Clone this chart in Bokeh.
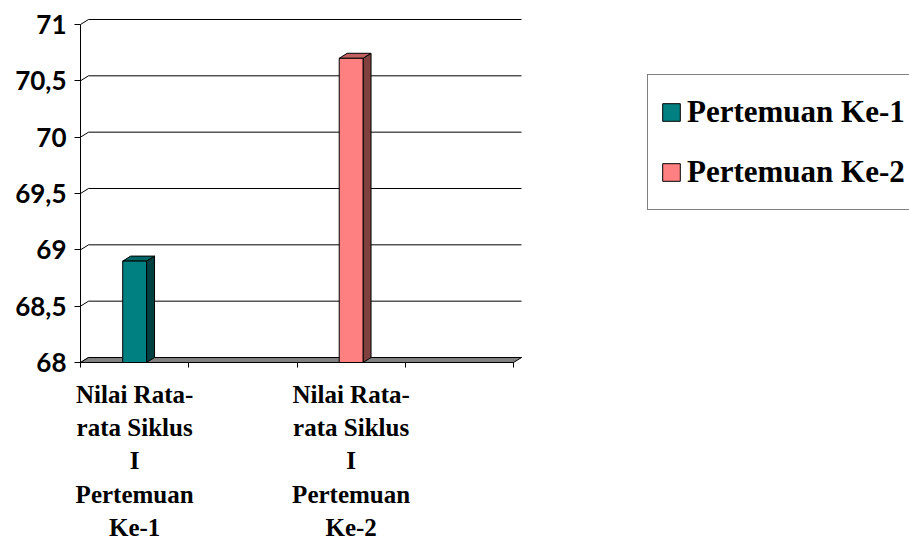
from bokeh.plotting import figure
from bokeh.models import FixedTicker, Range1d, Legend, LegendItem
from bokeh.embed import file_html
from bokeh.resources import INLINE

# ---- data -------------------------------------------------------------
category_labels = [
    "Nilai Rata-\nrata Siklus\nI\nPertemuan\nKe-1",
    "",
    "Nilai Rata-\nrata Siklus\nI\nPertemuan\nKe-2",
    "",
]
series_names = ["Pertemuan Ke-1", "Pertemuan Ke-2"]
series_values = [68.9, 70.7]
series_slot = [0, 2]          # category slot that holds each series' column
y_ticks = [68, 68.5, 69, 69.5, 70, 70.5, 71]
y_tick_labels = ["68", "68,5", "69", "69,5", "70", "70,5", "71"]

# ---- styling ----------------------------------------------------------
front_colors = ["#008080", "#FF8080"]
side_colors = ["#004040", "#804040"]
top_colors = ["#006666", "#C06060"]

W, H = 909, 539
LEFT, BASE = 80, 362          # pixel position of the chart origin
PX_X, PX_Y = 108.25, 112.67   # pixels per category slot / per value unit
Y0, Y1 = y_ticks[0], y_ticks[-1]
N_SLOTS = len(category_labels)
DX, DY = 8 / PX_X, 5 / PX_Y   # 3-D depth offset in data units
BAR_W = 0.22

p = figure(
    width=W, height=H, output_backend="svg", toolbar_location=None,
    x_range=Range1d(-LEFT / PX_X, (W - LEFT) / PX_X),
    y_range=Range1d(Y0 - (H - BASE) / PX_Y, Y0 + BASE / PX_Y),
    min_border=0, outline_line_color=None,
)
p.xgrid.visible = False
p.ygrid.visible = False

# back-wall gridlines plus the short depth connectors from each tick
p.segment(x0=[DX] * len(y_ticks), y0=[t + DY for t in y_ticks],
          x1=[N_SLOTS + DX] * len(y_ticks), y1=[t + DY for t in y_ticks],
          line_color="black", line_width=1)
p.segment(x0=[0] * len(y_ticks), y0=y_ticks,
          x1=[DX] * len(y_ticks), y1=[t + DY for t in y_ticks],
          line_color="black", line_width=1)

# floor
p.patch(x=[0, N_SLOTS, N_SLOTS + DX, DX], y=[Y0, Y0, Y0 + DY, Y0 + DY],
        fill_color="#808080", line_color="black", line_width=1)

# 3-D columns
legend_items = []
for name, v, slot, fc, sc, tc in zip(series_names, series_values, series_slot,
                                     front_colors, side_colors, top_colors):
    c = slot + 0.5
    l, r = c - BAR_W / 2, c + BAR_W / 2
    p.patch(x=[r, r + DX, r + DX, r], y=[Y0, Y0 + DY, v + DY, v],
            fill_color=sc, line_color="black", line_width=1)
    p.patch(x=[l, r, r + DX, l + DX], y=[v, v, v + DY, v + DY],
            fill_color=tc, line_color="black", line_width=1)
    front = p.vbar(x=[c], width=BAR_W, bottom=Y0, top=[v],
                   fill_color=fc, line_color="black", line_width=1)
    legend_items.append(LegendItem(label=name, renderers=[front]))

# value axis
ya = p.yaxis[0]
ya.fixed_location = 0
ya.bounds = (Y0, Y1)
ya.ticker = FixedTicker(ticks=y_ticks, minor_ticks=[])
ya.major_label_overrides = {float(t): s for t, s in zip(y_ticks, y_tick_labels)}
ya.major_tick_out = 6
ya.major_tick_in = 0
ya.minor_tick_out = 0
ya.major_label_standoff = 8
ya.major_label_text_font = "Lato"
ya.major_label_text_font_style = "bold"
ya.major_label_text_font_size = "26px"
ya.major_label_text_color = "black"
ya.axis_line_color = "black"
ya.major_tick_line_color = "black"

# category axis: ticks on slot borders, labels at slot centres
xa = p.xaxis[0]
xa.fixed_location = Y0
xa.bounds = (0, N_SLOTS)
xa.ticker = FixedTicker(ticks=[i + 0.5 for i in range(N_SLOTS)],
                        minor_ticks=list(range(N_SLOTS + 1)))
xa.major_label_overrides = {i + 0.5: s for i, s in enumerate(category_labels)}
xa.major_tick_line_color = None
xa.major_tick_out = 5
xa.major_tick_in = 0
xa.minor_tick_out = 5
xa.minor_tick_in = 0
xa.minor_tick_line_color = "black"
xa.major_label_standoff = 13
xa.major_label_text_font = "Liberation Serif"
xa.major_label_text_font_style = "bold"
xa.major_label_text_font_size = "25px"
xa.major_label_text_line_height = 1.24
xa.major_label_text_color = "black"
xa.axis_line_color = "black"

legend = Legend(items=legend_items, location=(647, H - 210))
legend.border_line_color = "black"
legend.border_line_width = 1
legend.background_fill_color = "white"
legend.background_fill_alpha = 1
legend.label_text_font = "Liberation Serif"
legend.label_text_font_style = "bold"
legend.label_text_font_size = "31px"
legend.label_text_color = "black"
legend.glyph_width = 22
legend.glyph_height = 22
legend.label_height = 50
legend.label_standoff = 5
legend.padding = 12
legend.spacing = 10
legend.margin = 0
p.add_layout(legend)

open("out.html", "w").write(file_html(p, INLINE))
